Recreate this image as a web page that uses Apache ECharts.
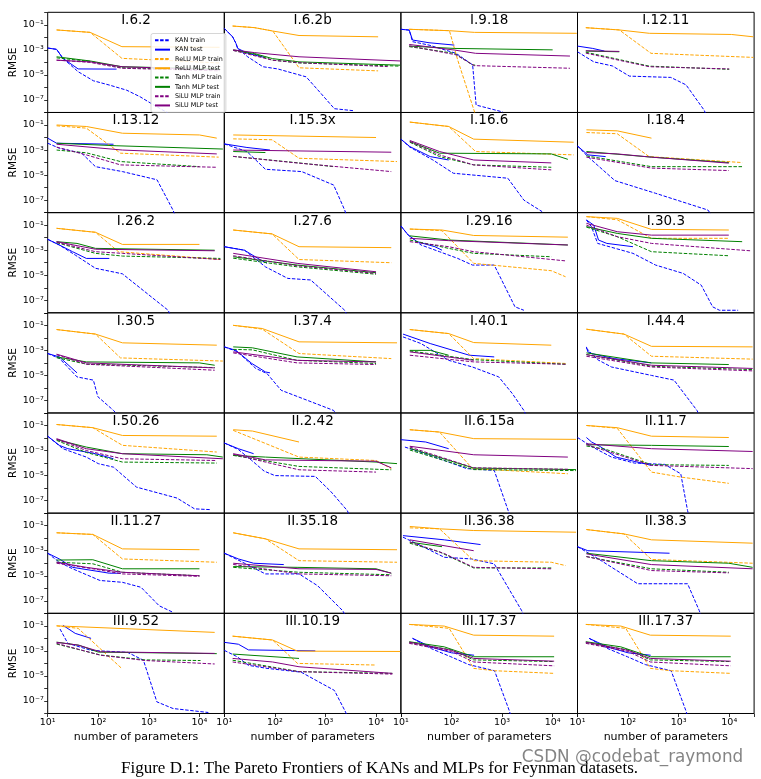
<!DOCTYPE html>
<html><head><meta charset="utf-8">
<script src="https://cdn.jsdelivr.net/npm/echarts@6/dist/echarts.min.js"></script>
<style>html,body{margin:0;padding:0;background:#fff}#c{width:761px;height:779px}</style>
</head><body><div id="c"></div>
<script>
const panelTitles = ['I.6.2','I.6.2b','I.9.18','I.12.11','I.13.12','I.15.3x','I.16.6','I.18.4','I.26.2','I.27.6','I.29.16','I.30.3','I.30.5','I.37.4','I.40.1','I.44.4','I.50.26','II.2.42','II.6.15a','II.11.7','II.11.27','II.35.18','II.36.38','II.38.3','III.9.52','III.10.19','III.17.37','III.17.37'];
const seriesNames = ['KAN train','KAN test','ReLU MLP train','ReLU MLP test','Tanh MLP train','Tanh MLP test','SiLU MLP train','SiLU MLP test'];
const seriesColors = ['#0000ff','#0000ff','#ffa500','#ffa500','#008000','#008000','#800080','#800080'];
const seriesDashed = [true,false,true,false,true,false,true,false];
const yLabelExps = [-1,-3,-5,-7];
const xLabelExps = [1,2,3,4];
const xRange = [10, 31000];
const yRange = [1e-8, 1];

const kanTrain = [
[[10,1.4e-3],[15,1.1e-3],[20,2.1e-4],[40,1.8e-5],[80,3.4e-6],[170,1.5e-6],[365,6e-7],[670,1.8e-7],[1240,4e-8],[2300,1e-8],[2600,6e-9]],
[[10,5.2e-2],[11.6,2.8e-2],[14.6,1.1e-2],[17,3.3e-3],[18.4,1.3e-3],[29,2.8e-4],[58,4.5e-5],[114,3e-5],[415,7e-6],[815,3.3e-7],[1500,2e-8],[3500,1.4e-8]],
[[10,4.4e-2],[14.6,3.8e-2],[17,4.5e-3],[36,2.4e-3],[123,5.3e-4],[262,6.3e-5],[307,3.9e-8],[1030,1.1e-8]],
[[10,7e-4],[21,1.1e-4],[49,5.2e-5],[106,8e-6],[700,6.3e-6],[1400,1.6e-6],[3200,1.5e-8],[3500,6e-9]],
[[10,3.5e-3],[17,1.4e-3],[47,5.6e-4],[88,4.7e-5],[300,1.9e-5],[1450,4.2e-6],[3000,1.6e-8],[3300,6e-9]],
[[10,3.1e-3],[28,7.6e-4],[65,2.9e-5],[340,1.9e-5],[1450,1.6e-6],[2400,1.6e-8],[2600,6e-9]],
[[10,7.4e-3],[15,1.7e-3],[43,1.6e-4],[109,1.4e-5],[1300,5.6e-6],[2700,1e-7],[6200,1.2e-8]],
[[10,2.1e-3],[16,3e-4],[55,3.6e-6],[350,3.5e-7],[3800,1.6e-8],[4500,6e-9]],
[[10,7.4e-3],[17,2.6e-3],[35,4.1e-4],[88,3.6e-5],[300,1.3e-5],[2400,1.6e-8],[2700,6e-9]],
[[10,1.9e-3],[25,1e-3],[65,4.7e-5],[180,5.6e-6],[510,4.2e-6],[2400,1.6e-8],[2700,6e-9]],
[[10,8.6e-2],[14,1.6e-2],[25,2.6e-3],[58,7.6e-4],[133,2.2e-4],[260,6.5e-5],[700,6.5e-5],[1800,3e-8],[2700,1.6e-8]],
[[15,2.6e-1],[19,7e-2],[25,3.5e-3],[125,5.6e-4],[350,6.5e-5],[1230,1.4e-5],[2800,1.6e-6],[4700,3e-8],[6400,1.6e-8],[15000,1.6e-8]],
[[10,5.6e-4],[17,2.3e-4],[38,7.6e-6],[80,4.2e-6],[98,2e-7],[200,1.6e-8],[250,6e-9]],
[[10,1.9e-3],[18,8e-4],[42,3.6e-5],[70,1.4e-5],[133,6.5e-7],[1450,1.6e-8],[1700,6e-9]],
[[11,1.2e-2],[25,3.5e-3],[88,1.6e-4],[260,4.7e-5],[860,7.6e-6],[1600,3.5e-7],[2700,1.6e-8],[3000,6e-9]],
[[15,1.5e-3],[25,1.8e-4],[47,4.7e-5],[290,1e-5],[810,4.2e-6],[2300,1.6e-8],[2600,6e-9]],
[[10,1.4e-2],[20,1.4e-3],[58,3e-4],[100,9e-5],[200,4.7e-5],[570,1.2e-6],[3600,1.6e-7],[8000,2.2e-8],[17000,1.9e-8]],
[[10,4e-3],[19,1.2e-3],[35,1.6e-4],[61,2.3e-5],[100,1e-5],[630,8.6e-6],[1300,4.9e-7],[2700,1.6e-8],[3000,6e-9]],
[[12,1.9e-3],[38,4.1e-4],[200,3.6e-5],[700,2.6e-5],[1320,1.6e-8],[1450,6e-9]],
[[10,1.1e-2],[19,2.1e-3],[47,3e-4],[133,1e-4],[530,7.8e-5],[1100,1.4e-5],[1500,1.6e-8],[1600,6e-9]],
[[10,6.3e-4],[17,1.2e-4],[31,3.6e-5],[108,4.2e-6],[300,3e-6],[700,1.2e-6],[1600,4e-8],[3000,1.2e-8]],
[[10,6.3e-4],[23,1.2e-4],[65,1.4e-5],[300,1.4e-5],[700,1.6e-6],[2200,1.6e-8],[2500,6e-9]],
[[11,1.2e-2],[21,3.5e-3],[72,3e-4],[250,2.2e-4],[700,8.9e-5],[2450,1.6e-8],[2700,6e-9]],
[[10,2.1e-3],[26,2.2e-4],[155,2.3e-6],[1500,2.3e-6],[2560,1.6e-8],[2800,6e-9]],
[[17.5,5.6e-2],[25,4e-3],[72,1.1e-3],[380,7.6e-4],[780,1.8e-4],[1440,8.5e-8],[3000,2.5e-8],[15000,1.2e-8]],
[[10,1.1e-3],[18,3.4e-4],[30,7e-5],[70,4e-5],[330,2e-5],[1500,7e-7],[2500,1.3e-8],[2700,6e-9]],
[[17,1e-2],[40,1.5e-3],[97,3.4e-4],[220,8e-5],[710,2.6e-5],[1380,1.8e-8],[1500,6e-9]],
[[17,1e-2],[40,1.5e-3],[97,3.4e-4],[220,8e-5],[710,2.6e-5],[1380,1.8e-8],[1500,6e-9]]
];
const kanTest = [
[[10,1.4e-3],[15,1.1e-3],[20,2.1e-4],[40,3e-5],[230,2.9e-5]],
[[10,5.2e-2],[11.6,2.8e-2],[14.6,1.1e-2],[17,3.3e-3],[18.4,1.3e-3],[29,5.3e-4],[62,2.5e-4]],
[[10,4.4e-2],[14.6,3.8e-2],[17,6.1e-3],[36,3.7e-3],[114,2.4e-3]],
[[10,2e-3],[20,1.3e-3],[34,8e-4]],
[[10,8.9e-3],[15,3.5e-3],[200,2.9e-3]],
[[10,3.1e-3],[28,1.6e-3],[80,1e-3]],
[[10,7.4e-3],[15,1.9e-3],[38,3e-4],[88,1.6e-4]],
[[10,2.1e-3],[16,4.1e-4],[36,3e-4]],
[[10,7.4e-3],[17,2.6e-3],[31,7.6e-4],[58,2.2e-4],[165,2.2e-4]],
[[10,1.9e-3],[25,1e-3],[53,1.6e-4],[70,9e-5]],
[[10,8.6e-2],[14,1.6e-2],[21,4.8e-3],[47,1.9e-3],[65,1e-3]],
[[15,2.6e-1],[21,1e-1],[26,6.5e-3],[38,3.5e-3],[125,1.9e-3]],
[[10,5.6e-4],[17,3e-4],[38,1.6e-5]],
[[10,1.9e-3],[17,1e-3],[35,9e-5],[65,1.9e-5],[80,1.6e-5]],
[[11,2e-2],[38,3.5e-3],[225,4.1e-4],[700,3e-4]],
[[15,1.9e-3],[16,7.6e-4],[19,5.6e-4],[53,2.2e-4],[290,1e-4]],
[[10,1.4e-2],[17,2.6e-3],[25,1.4e-3],[88,5.6e-4],[200,2.2e-4]],
[[10,4e-3],[19,1.4e-3],[38,5.6e-4]],
[[10,7.4e-3],[31,4.8e-3],[88,1.4e-3]],
[[15,1.1e-2],[19,4.8e-3],[28,2.1e-3],[58,3e-4],[290,6.5e-5]],
[[10,6.3e-4],[17,2.2e-4],[31,4.7e-5],[165,1.6e-5],[280,1.6e-5]],
[[10,6.3e-4],[19,2.2e-4],[38,1e-4],[150,7.8e-5]],
[[11,1.6e-2],[72,7.4e-3],[375,3.1e-3]],
[[10,2.1e-3],[16,1e-3],[660,6.3e-4]],
[[20,1.1e-1],[35,2.5e-2],[72,1e-2]],
[[10,4.8e-3],[19,3.4e-3],[30,1.2e-3],[630,1e-3]],
[[17,1e-2],[40,2e-3],[100,7e-4],[280,4.5e-4]],
[[17,1e-2],[40,2e-3],[100,7e-4],[280,4.5e-4]]
];
const reluTrain = [
[[15,3.9e-2],[69,2.5e-2],[293,2.1e-4],[25000,9e-5]],
[[14.6,8e-2],[39,6e-2],[91,3.2e-2],[300,3.7e-5],[11000,2.1e-5]],
[[14.6,4.4e-2],[91,3.4e-2],[133,1.5e-4],[300,6e-9]],
[[14.6,5.9e-2],[67,3.9e-2],[284,5.3e-4],[30000,2.5e-4]],
[[15,8.6e-2],[58,5.6e-2],[275,5.6e-4],[24000,2.7e-4]],
[[15,7.8e-3],[88,6.6e-3],[300,2.2e-4],[26000,1.2e-4]],
[[15,1.7e-1],[88,7.6e-2],[300,7.6e-4],[26000,4.1e-4]],
[[15,2.5e-2],[61,2e-2],[260,3e-4],[18000,1e-4]],
[[15,5.6e-2],[88,2.7e-2],[250,7.6e-4],[26000,1.8e-4]],
[[15,4.1e-2],[88,2e-2],[300,1.8e-4],[20000,1e-4]],
[[15,4.9e-2],[65,3.6e-2],[275,8.9e-5],[9400,2.3e-5],[18000,7.6e-6]],
[[15,4.8e-1],[61,2.7e-1],[290,8.9e-3],[9800,8.9e-3]],
[[15,4.6e-2],[88,2e-2],[275,2.5e-4],[29000,1.4e-4]],
[[15,1e-1],[56,5e-2],[300,5.6e-4],[20000,2.2e-4]],
[[15,4.6e-2],[88,2.2e-2],[275,2.2e-4],[18000,9e-5]],
[[15,4.9e-2],[83,2e-2],[290,3.4e-4],[29000,2e-4]],
[[15,1.2e-1],[78,6.7e-2],[300,2.6e-3],[22000,7.6e-4]],
[[15,4.1e-2],[300,3e-4],[10000,1.6e-4],[20000,3.6e-5]],
[[15,4.6e-2],[58,3e-2],[260,3.6e-5],[20000,1.4e-5]],
[[15,1e-1],[61,6e-2],[290,1.9e-5],[1100,7.6e-6],[9800,2.4e-6]],
[[15,2.7e-2],[78,2e-2],[300,2.2e-4],[22000,1.2e-4]],
[[15,2.7e-2],[65,8.9e-3],[300,1.6e-4],[26000,1.2e-4]],
[[15,6.7e-2],[58,5.6e-2],[275,1.6e-4],[9400,1.2e-4],[18000,6.5e-5]],
[[15,4.9e-2],[83,2.2e-2],[290,2e-4],[29000,1e-4]],
[[15,1e-1],[40,6.3e-2],[290,4e-5]],
[[14.6,1.5e-2],[90,7.4e-3],[280,1e-4],[10000,7.4e-5]],
[[14.6,1.3e-1],[90,6.3e-2],[275,4e-5],[710,2.6e-5],[10700,1.6e-5]],
[[14.6,1.3e-1],[90,6.3e-2],[275,4e-5],[710,2.6e-5],[10700,1.6e-5]]
];
const reluTest = [
[[15,3.9e-2],[69,2.5e-2],[293,1.8e-3],[25000,1.6e-3]],
[[14.6,8e-2],[39,6e-2],[91,3.2e-2],[300,1.4e-2],[11000,1.1e-2]],
[[14.6,4.4e-2],[91,3.4e-2],[283,2.5e-2],[30000,2.1e-2]],
[[14.6,5.9e-2],[67,3.9e-2],[263,2.1e-2],[11000,1.7e-2],[30000,1.1e-2]],
[[15,1e-1],[58,7.6e-2],[300,2.2e-2],[10000,1.6e-2],[22000,8.9e-3]],
[[15,1.6e-2],[10000,1e-2]],
[[15,1.7e-1],[88,7.6e-2],[275,7.4e-3],[26000,4.2e-3]],
[[15,4.1e-2],[61,3.4e-2],[290,8.9e-3]],
[[15,5.6e-2],[88,2.7e-2],[300,2.9e-3],[10000,2.9e-3]],
[[15,4.1e-2],[88,2e-2],[300,1.9e-3],[20000,1.6e-3]],
[[15,4.9e-2],[65,4.1e-2],[275,1.5e-2],[20000,1.1e-2]],
[[15,4.8e-1],[61,3.5e-1],[290,4.6e-2],[9800,4.1e-2]],
[[15,4.6e-2],[88,2e-2],[300,4e-3],[22000,2.6e-3]],
[[15,1e-1],[56,5.6e-2],[300,4.8e-3],[26000,4e-3]],
[[15,4.6e-2],[88,2.2e-2],[275,4.2e-3],[9400,2.6e-3]],
[[15,4.9e-2],[83,2e-2],[290,2.1e-3],[29000,1.9e-3]],
[[15,1.2e-1],[78,6.7e-2],[300,1.6e-2],[22000,1.4e-2]],
[[15,4.6e-2],[36,3.6e-2],[300,4.8e-3]],
[[15,4.6e-2],[58,3e-2],[275,8.9e-3],[29000,7.8e-3]],
[[15,1e-1],[61,6.7e-2],[290,1.4e-2],[9800,1.1e-2]],
[[15,2.7e-2],[78,2e-2],[300,1.4e-3],[10000,1.2e-3]],
[[15,2.7e-2],[65,8.9e-3],[300,1.4e-3],[26000,1.2e-3]],
[[15,8.6e-2],[58,5.6e-2],[275,4.1e-2],[29000,3e-2]],
[[15,4.9e-2],[83,2.2e-2],[290,7.4e-3],[29000,4e-3]],
[[15,1e-1],[20000,3e-2]],
[[14.6,1.5e-2],[90,7.4e-3],[280,9.5e-4],[30000,9e-4]],
[[14.6,1.3e-1],[72,9.6e-2],[275,1.8e-2],[10700,1.5e-2]],
[[14.6,1.3e-1],[72,9.6e-2],[275,1.8e-2],[10700,1.5e-2]]
];
const tanhTrain = [
[[15,2.3e-4],[69,1.2e-4],[293,3.7e-5],[25000,2.5e-5]],
[[15,9e-4],[40,4.5e-4],[90,1.5e-4],[300,9e-5],[30000,5e-5]],
[[14.6,1.8e-3],[114,5.3e-4],[262,6.3e-5],[300,6e-5]],
[[14.6,6.5e-4],[263,5e-5],[10000,2.8e-5]],
[[15,1e-3],[58,6e-4],[275,1.2e-4],[10000,4.7e-5]],
[[15,3.1e-4],[340,8.9e-5],[1450,4.7e-5]],
[[15,4.2e-3],[58,3e-4],[275,6.5e-5],[9400,4.2e-5]],
[[15,3.4e-4],[290,4.7e-5],[18000,4.7e-5]],
[[15,4e-3],[88,5.6e-4],[300,3.4e-4],[26000,2.2e-4]],
[[15,2.3e-4],[275,4.7e-5],[10000,1.2e-5]],
[[15,6.5e-3],[88,1.4e-3],[275,5.6e-4],[9400,3e-4]],
[[15,7e-2],[61,1.2e-2],[290,7.6e-4],[9800,3.6e-4]],
[[15,2.6e-4],[58,8e-5],[20000,4.2e-5]],
[[15,1.2e-3],[36,1.1e-3],[275,1.6e-4],[10000,9e-5]],
[[15,9e-4],[275,1.8e-4],[18000,7.8e-5]],
[[15,4.6e-4],[290,5.4e-5],[29000,2.9e-5]],
[[15,6.5e-3],[58,7e-4],[300,1.2e-4],[22000,1e-4]],
[[15,4.1e-4],[300,5.4e-5],[20000,2.9e-5]],
[[15,1.1e-3],[275,3e-5],[29000,2.5e-5]],
[[15,2.3e-3],[35,1.3e-3],[290,7.4e-5],[9800,6.5e-5]],
[[15,1.2e-4],[78,9e-5],[300,1.9e-5],[10000,1e-5]],
[[15,4.7e-5],[300,1.9e-5],[20000,1.2e-5]],
[[15,4e-3],[58,8e-4],[275,4.2e-5],[9400,4.2e-5]],
[[15,3.4e-4],[290,3.6e-5],[9800,1.9e-5]],
[[15,3.5e-3],[110,4.7e-4],[850,1.9e-4],[10500,1.7e-4]],
[[14.6,1.8e-4],[300,2.2e-5],[21000,1.6e-5]],
[[14.6,4.6e-3],[100,1.2e-3],[275,1.9e-4],[10700,1.4e-4]],
[[14.6,4.6e-3],[100,1.2e-3],[275,1.9e-4],[10700,1.4e-4]]
];
const tanhTest = [
[[15,2.8e-4],[69,1.3e-4],[293,4.5e-5],[25000,3e-5]],
[[15,1e-3],[40,5e-4],[90,2e-4],[300,1.1e-4],[30000,6e-5]],
[[14.6,2e-3],[114,1.3e-3],[10000,1e-3]],
[[14.6,8e-4],[67,7e-4]],
[[15,3.5e-3],[225,2.2e-3],[29000,1.2e-3]],
[[15,7.6e-4],[65,6.3e-4]],
[[15,4.8e-3],[58,5.6e-4],[9400,4.9e-4],[20000,1.8e-4]],
[[15,7.6e-4],[290,2.7e-4],[9800,1e-4]],
[[15,4.8e-3],[38,3.5e-3],[88,1.4e-3],[20000,1e-3]],
[[15,3e-4],[275,6.5e-5],[10000,1.6e-5]],
[[15,1.4e-2],[88,6.5e-3],[20000,2.6e-3]],
[[15,7.6e-2],[61,2.2e-2],[290,8.9e-3],[18000,4.8e-3]],
[[15,3e-4],[58,1.2e-4],[10000,1e-4],[20000,6.5e-5]],
[[15,1.9e-3],[36,1.6e-3],[275,3e-4],[10000,1.2e-4]],
[[15,1e-3],[38,1e-3],[88,4.1e-4]],
[[15,6.3e-4],[290,1e-4],[9800,7.4e-5]],
[[15,7.4e-3],[58,1.9e-3],[300,5.6e-4],[14000,4.6e-4],[29000,3e-4]],
[[15,4.1e-4],[65,3e-4],[10000,1.2e-4],[26000,9e-5]],
[[15,1.5e-3],[275,4e-5],[29000,3e-5]],
[[15,2.9e-3],[290,2.6e-3],[9800,2.1e-3]],
[[15,1.8e-4],[78,1.9e-4],[300,3.6e-5],[10000,3.6e-5]],
[[15,5.4e-5],[275,4.7e-5],[10000,3.6e-5],[20000,1.6e-5]],
[[15,4.8e-3],[65,2.1e-3]],
[[15,6.3e-4],[290,1.6e-4],[9800,1e-4],[29000,4.7e-5]],
[[15,5e-3],[42,2.8e-3],[100,8e-4],[22000,6e-4]],
[[14.6,5.6e-4],[300,2.5e-4]],
[[14.6,5.4e-3],[72,2.1e-3],[275,3.4e-4],[10700,3.4e-4]],
[[14.6,5.4e-3],[72,2.1e-3],[275,3.4e-4],[10700,3.4e-4]]
];
const siluTrain = [
[[15,1.5e-4],[69,1e-4],[293,3.4e-5],[25000,2.1e-5]],
[[15,9e-4],[90,1.5e-4],[300,9.5e-5],[17000,4.6e-5]],
[[14.6,2.1e-3],[123,4e-4],[283,5.5e-5],[22000,3.4e-5]],
[[14.6,5.5e-4],[263,4.5e-5],[10000,3e-5]],
[[15,1.7e-3],[58,4.1e-4],[275,6.5e-5],[22000,4.2e-5]],
[[15,3.1e-4],[300,8.9e-5],[20000,1.9e-5]],
[[15,4.8e-3],[58,4.1e-4],[275,6.5e-5],[9400,2.6e-5]],
[[15,2.7e-4],[290,3.6e-5],[9800,2.3e-5]],
[[15,4.4e-3],[88,7.6e-4],[300,5.6e-4],[26000,1.8e-4]],
[[15,3.6e-4],[275,5.8e-5],[10000,1.4e-5]],
[[15,4.8e-3],[88,1.9e-3],[275,7.6e-4],[18000,1.4e-4]],
[[15,1e-1],[61,1.2e-2],[290,3.5e-3],[26000,9e-4]],
[[15,4.5e-4],[58,7.8e-5],[20000,2.6e-5]],
[[15,6.3e-4],[275,1e-4],[10000,7.4e-5]],
[[15,4.1e-4],[275,1.2e-4],[18000,7.8e-5]],
[[15,3.4e-4],[290,4.7e-5],[29000,2.3e-5]],
[[15,8e-3],[58,1e-3],[300,2.2e-4],[22000,1.6e-4]],
[[15,5e-4],[65,1.2e-4],[300,2.9e-5],[10000,1.9e-5]],
[[15,1.9e-3],[275,4.2e-5],[20000,3.2e-5]],
[[15,3e-3],[290,6.5e-5],[29000,3.6e-5]],
[[15,1e-4],[78,3.6e-5],[300,1.4e-5],[10000,9e-6]],
[[15,8e-5],[300,1.4e-5],[20000,1e-5]],
[[15,5e-3],[72,6e-4],[275,4.7e-5],[9400,3.6e-5]],
[[15,3.4e-4],[290,2.6e-5],[9800,1.7e-5]],
[[15,4e-3],[110,4.5e-4],[850,1.7e-4],[20000,9e-5]],
[[14.6,1.3e-4],[300,2.2e-5],[21000,1.4e-5]],
[[14.6,4e-3],[100,9e-4],[275,1.3e-4],[10700,6.4e-5]],
[[14.6,4e-3],[100,9e-4],[275,1.3e-4],[10700,6.4e-5]]
];
const siluTest = [
[[15,1.5e-4],[69,1.1e-4],[293,4.5e-5],[25000,2.5e-5]],
[[15,1e-3],[40,6e-4],[300,2.8e-4],[30000,1.3e-4]],
[[14.6,2.7e-3],[114,9.7e-4],[300,5.3e-4],[22000,3.2e-4]],
[[14.6,8.5e-4],[67,7.5e-4]],
[[15,2.9e-3],[300,1e-3],[22000,4.9e-4]],
[[15,1e-3],[20000,6.7e-4]],
[[15,5.8e-3],[58,7.6e-4],[275,1.6e-4],[9400,9.4e-5]],
[[15,6.3e-4],[61,4.9e-4],[290,2.7e-4],[9800,9e-5]],
[[15,4.8e-3],[88,1.2e-3],[20000,9e-4]],
[[15,5.6e-4],[275,8.9e-5],[10000,1.9e-5]],
[[15,8.9e-3],[88,5.8e-3],[20000,2.6e-3]],
[[15,1.4e-1],[61,3e-2],[290,1.6e-2],[9800,1.6e-2]],
[[15,5e-4],[58,1e-4],[20000,4e-5]],
[[15,7.6e-4],[275,1.6e-4],[10000,1.2e-4]],
[[15,7.6e-4],[275,1.6e-4]],
[[15,4.6e-4],[290,6.5e-5],[29000,3.6e-5]],
[[15,8.9e-3],[58,1.4e-3],[300,5.6e-4],[29000,2.2e-4]],
[[15,5.6e-4],[65,1.8e-4],[10000,1.4e-4],[20000,4.2e-5]],
[[15,2.2e-3],[275,4.6e-4],[20000,3e-4]],
[[15,3.5e-3],[290,1.4e-3],[29000,8.4e-4]],
[[15,1.2e-4],[58,4.7e-5],[300,1.9e-5],[10000,1e-5]],
[[15,1e-4],[300,3.6e-5],[10000,3.2e-5],[20000,1.6e-5]],
[[15,7.4e-3],[275,1e-3]],
[[15,5.6e-4],[290,7.8e-5],[29000,3.6e-5]],
[[15,4.8e-3],[40,2.9e-3],[110,8.5e-4],[20000,6.3e-4]],
[[14.6,2.5e-4],[90,1.3e-4],[300,5.4e-5],[21000,1.6e-5]],
[[14.6,5e-3],[100,1.1e-3],[275,2.5e-4],[10700,1.5e-4]],
[[14.6,5e-3],[100,1.1e-3],[275,2.5e-4],[10700,1.5e-4]]
];
const seriesData = [kanTrain, kanTest, reluTrain, reluTest, tanhTrain, tanhTest, siluTrain, siluTest];

const SUP = {'-':'\u207B','0':'\u2070','1':'\u00B9','2':'\u00B2','3':'\u00B3','4':'\u2074','5':'\u2075','6':'\u2076','7':'\u2077','8':'\u2078','9':'\u2079'};
function pow10Label(v, allowed) {
  const l = Math.log10(v); const e = Math.round(l);
  if (Math.abs(l - e) > 1e-6 || allowed.indexOf(e) < 0) return '';
  return '10' + String(e).split('').map(ch => SUP[ch]).join('');
}

const L0 = 47.7, CW = 176.6, T0 = 12.3, RH = 100.17, NC = 4, NR = 7;
const FONT = 'DejaVu Sans';
const grids = [], xAxes = [], yAxes = [], titles = [], series = [];
panelTitles.forEach((t, i) => {
  const r = Math.floor(i / NC), c = i % NC;
  const left = L0 + c * CW, top = T0 + r * RH;
  grids.push({left: left, top: top, width: CW, height: RH, show: true, borderColor: '#000', borderWidth: 1, backgroundColor: 'transparent', containLabel: false});
  const bottomRow = r === NR - 1, leftCol = c === 0;
  xAxes.push({type: 'log', logBase: 10, gridIndex: i, min: xRange[0], max: xRange[1],
    axisLine: {show: false}, splitLine: {show: false},
    axisTick: {show: bottomRow, length: 3.5, lineStyle: {color: '#000', width: 0.8}},
    axisLabel: {show: bottomRow, margin: 4, color: '#000', fontSize: 9.5, fontFamily: FONT, formatter: v => pow10Label(v, xLabelExps)},
    name: bottomRow ? 'number of parameters' : '', nameLocation: 'middle', nameGap: 18,
    nameTextStyle: {fontSize: 11, color: '#000', fontFamily: FONT}});
  yAxes.push({type: 'log', logBase: 10, gridIndex: i, min: yRange[0], max: yRange[1],
    axisLine: {show: false}, splitLine: {show: false},
    axisTick: {show: leftCol, length: 3.5, lineStyle: {color: '#000', width: 0.8}},
    axisLabel: {show: leftCol, margin: 4, color: '#000', fontSize: 9.5, fontFamily: FONT, formatter: v => pow10Label(v, yLabelExps)},
    name: leftCol ? 'RMSE' : '', nameLocation: 'middle', nameGap: 29, nameRotate: 90,
    nameTextStyle: {fontSize: 10.5, color: '#000', fontFamily: FONT}});
  titles.push({text: t, left: left + CW / 2, top: top + 1.5, textAlign: 'center', padding: 0,
    textStyle: {fontSize: 13.5, fontWeight: 'normal', color: '#000', fontFamily: FONT}});
  seriesData.forEach((arr, k) => {
    series.push({type: 'line', name: seriesNames[k], xAxisIndex: i, yAxisIndex: i, data: arr[i],
      symbol: 'none', clip: true, silent: true, color: seriesColors[k],
      lineStyle: {color: seriesColors[k], width: 1, type: seriesDashed[k] ? [3.5, 1.6] : 'solid'},
      itemStyle: {color: seriesColors[k]}});
  });
});

const chart = echarts.init(document.getElementById('c'), null, {renderer: 'canvas'});
chart.setOption({
  animation: false,
  textStyle: {fontFamily: FONT},
  title: titles,
  grid: grids, xAxis: xAxes, yAxis: yAxes,
  legend: {data: seriesNames, orient: 'vertical', left: 151, top: 33.5, itemWidth: 15, itemHeight: 6, itemGap: 1.6,
    padding: [3, 3, 3, 3], backgroundColor: 'rgba(255,255,255,0.85)', borderColor: '#cccccc', borderWidth: 0.8, borderRadius: 2,
    selectedMode: false, itemStyle: {opacity: 0, borderWidth: 0},
    textStyle: {fontSize: 6.4, lineHeight: 7.7, color: '#000', fontFamily: FONT}},
  series: series,
  graphic: [
    {type: 'text', x: 379.5, y: 769, style: {text: 'Figure D.1: The Pareto Frontiers of KANs and MLPs for Feynman datasets.', fill: '#000', font: '17px "Liberation Serif"', textAlign: 'center', textVerticalAlign: 'middle'}},
    {type: 'text', x: 632.5, y: 758, z: 100, style: {text: 'CSDN @codebat_raymond', fill: 'rgba(110,110,110,0.85)', font: '16.8px "DejaVu Sans"', textAlign: 'center', textVerticalAlign: 'middle'}}
  ]
});
</script></body></html>
